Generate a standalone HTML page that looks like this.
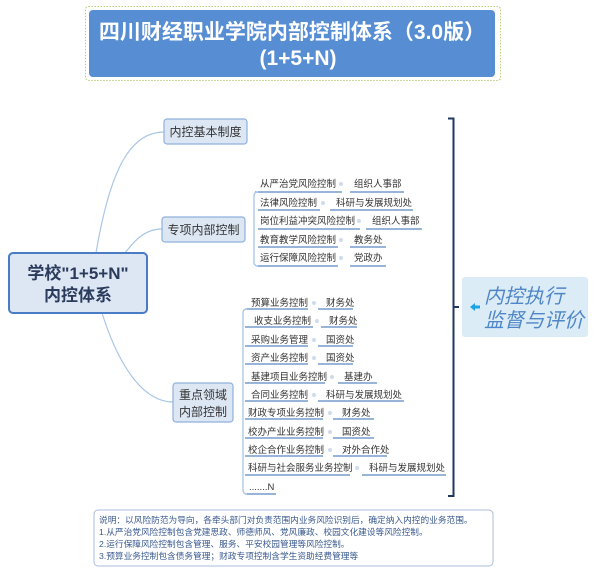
<!DOCTYPE html>
<html><head><meta charset="utf-8"><style>
html,body{margin:0;padding:0;background:#fff;}
svg{display:block;}
text{font-family:"Liberation Sans","Noto Sans CJK SC",sans-serif;}
</style></head><body>
<svg width="600" height="587" viewBox="0 0 600 587" xmlns="http://www.w3.org/2000/svg">
<rect x="85.5" y="6.5" width="415" height="74" fill="none" stroke="#b8cf7a" stroke-dasharray="1.5,1.5" rx="3"/>
<rect x="89" y="10" width="406" height="67" rx="4" fill="#578dd3"/>
<text x="292" y="39" text-anchor="middle" font-size="21" font-weight="bold" fill="#fff">四川财经职业学院内部控制体系（3.0版）</text>
<text x="298" y="65" text-anchor="middle" font-size="21" font-weight="bold" fill="#fff">(1+5+N)</text>

<g fill="none" stroke="#a8c6e6" stroke-width="1.2">
<path d="M96 253 C110 170,130 132,164 132"/>
<path d="M125 253 C135 240,145 229,162 229"/>
<path d="M102 313 C120 370,145 402,173 402"/>
</g>

<rect x="164" y="119" width="83" height="25" rx="3" fill="#dde7f4" stroke="#8fb0dc" stroke-width="1.2"/>
<text x="205.5" y="136" text-anchor="middle" font-size="12" fill="#333">内控基本制度</text>
<rect x="162" y="217" width="83" height="25" rx="3" fill="#dde7f4" stroke="#8fb0dc" stroke-width="1.2"/>
<text x="203.5" y="234" text-anchor="middle" font-size="12" fill="#333">专项内部控制</text>
<rect x="173" y="383" width="60" height="39" rx="3" fill="#dde7f4" stroke="#8fb0dc" stroke-width="1.2"/>
<text x="203" y="399" text-anchor="middle" font-size="12" fill="#333">重点领域</text>
<text x="203" y="416" text-anchor="middle" font-size="12" fill="#333">内部控制</text>

<rect x="9" y="253" width="138" height="60" rx="4" fill="#dde7f4" stroke="#4a7cc6" stroke-width="2"/>
<text x="78" y="279" text-anchor="middle" font-size="17" font-weight="bold" fill="#2a3b5c">学校"1+5+N"</text>
<text x="78" y="301" text-anchor="middle" font-size="17" font-weight="bold" fill="#2a3b5c">内控体系</text>

<g font-size="9.5" fill="#333">
<text x="260" y="187">从严治党风险控制</text><text x="354" y="187">组织人事部</text>
<text x="260" y="206">法律风险控制</text><text x="336" y="206">科研与发展规划处</text>
<text x="260" y="224">岗位利益冲突风险控制</text><text x="372" y="224">组织人事部</text>
<text x="260" y="243">教育教学风险控制</text><text x="354" y="243">教务处</text>
<text x="260" y="261">运行保障风险控制</text><text x="354" y="261">党政办</text>
</g>
<g fill="none" stroke="#5a86c2" stroke-width="1.3">
<path d="M255 192 H342 M350 192 H404"/>
<path d="M258 210 H320 M330 210 H413"/>
<path d="M258 229 H360 M366 229 H422"/>
<path d="M258 247 H338 M350 247 H386"/>
<path d="M258 266 H338 M350 266 H386"/>
<path d="M258 192 Q254 192 254 196 V262 Q254 266 258 266" stroke="#a8c6e6"/>
</g>
<g fill="#cfdcec"><circle cx="341" cy="184" r="2"/><circle cx="323" cy="203" r="2"/><circle cx="359" cy="221" r="2"/><circle cx="341" cy="240" r="2"/><circle cx="341" cy="258" r="2"/></g>

<g font-size="9.5" fill="#333">
<text x="251" y="306">预算业务控制</text><text x="326" y="306">财务处</text>
<text x="254" y="324">收支业务控制</text><text x="329" y="324">财务处</text>
<text x="251" y="343">采购业务管理</text><text x="326" y="343">国资处</text>
<text x="251" y="361">资产业务控制</text><text x="326" y="361">国资处</text>
<text x="251" y="380">基建项目业务控制</text><text x="344" y="380">基建办</text>
<text x="251" y="398">合同业务控制</text><text x="326" y="398">科研与发展规划处</text>
<text x="248" y="416">财政专项业务控制</text><text x="342" y="416">财务处</text>
<text x="248" y="435">校办产业业务控制</text><text x="342" y="435">国资处</text>
<text x="248" y="453">校企合作业务控制</text><text x="342" y="453">对外合作处</text>
<text x="248" y="471">科研与社会服务业务控制</text><text x="369" y="471">科研与发展规划处</text>
<text x="249" y="490">.......N</text>
</g>
<g fill="none" stroke="#5a86c2" stroke-width="1.3">
<path d="M245 309 H308 M318 309 H353"/>
<path d="M245 327 H313 M321 327 H357"/>
<path d="M245 346 H308 M318 346 H353"/>
<path d="M245 364 H308 M318 364 H353"/>
<path d="M245 383 H325 M338 383 H377"/>
<path d="M245 401 H308 M318 401 H404"/>
<path d="M245 419 H323 M333 419 H374"/>
<path d="M245 438 H323 M333 438 H374"/>
<path d="M245 456 H323 M333 456 H387"/>
<path d="M245 475 H350 M362 475 H446"/>
<path d="M245 494 H276"/>
<path d="M247 309 Q243 309 243 313 V490 Q243 494 247 494" stroke="#a8c6e6"/>
</g>
<g fill="#cfdcec"><circle cx="314" cy="303" r="2"/><circle cx="317" cy="321" r="2"/><circle cx="314" cy="340" r="2"/><circle cx="314" cy="358" r="2"/><circle cx="332" cy="377" r="2"/><circle cx="314" cy="395" r="2"/><circle cx="330" cy="413" r="2"/><circle cx="330" cy="432" r="2"/><circle cx="330" cy="450" r="2"/><circle cx="357" cy="468" r="2"/></g>

<path d="M448 118.5 H453.5 V496 H448 M453.5 307 H459" fill="none" stroke="#1f3a60" stroke-width="2"/>
<rect x="462" y="277" width="126" height="60" rx="3" fill="#dcecf6"/>
<path d="M470 307 L475 303 V305.5 H480 V308.5 H475 V311 Z" fill="#1aa3e8"/>
<text x="484" y="303" font-size="20" font-style="italic" fill="#4f86c8">内控执行</text>
<text x="484" y="327" font-size="20" font-style="italic" fill="#4f86c8">监督与评价</text>

<rect x="94" y="510" width="399" height="56" rx="4" fill="#fff" stroke="#a8bcd8" stroke-width="1"/>
<g font-size="8.7" fill="#3a5a90">
<text x="99" y="523">说明：以风险防范为导向，各牵头部门对负责范围内业务风险识别后，确定纳入内控的业务范围。</text>
<text x="99" y="535">1.从严治党风险控制包含党建思政、师德师风、党风廉政、校园文化建设等风险控制。</text>
<text x="99" y="547">2.运行保障风险控制包含管理、服务、平安校园管理等风险控制。</text>
<text x="99" y="559">3.预算业务控制包含债务管理；财政专项控制含学生资助经费管理等</text>
</g>
</svg>
</body></html>
